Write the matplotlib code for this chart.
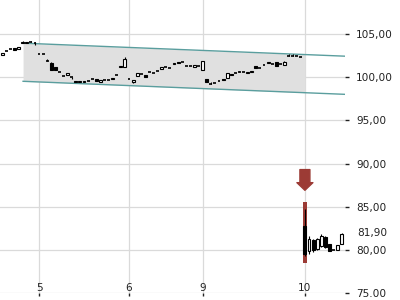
import numpy as np
import matplotlib.pyplot as plt
from matplotlib.ticker import FixedLocator

# candle data (one row per bar)
opens = [102.6, 103.05, 103.3, 103.35, 103.25, 103.95, 103.95, 104.1, 104.0,
         102.7, 102.7, 101.9, 101.65, 101.15, 100.6, 100.2, 100.25, 100.05, 99.6, 99.4,
         99.4, 99.6, 99.77, 99.75, 99.5, 99.65, 99.7, 99.75, 100.27, 101.15, 101.2,
         99.75, 99.5, 100.2, 100.35, 100.25, 100.6, 100.45, 100.7, 100.9, 101.2,
         101.1, 101.5, 101.75, 101.8, 101.3, 101.3, 101.2, 101.35,
         100.8, 99.8, 99.2, 99.38, 99.57, 99.8, 99.95, 100.4, 100.45, 100.55,
         100.6, 100.45, 100.6, 101.25, 101.1, 101.45, 101.6, 101.55, 101.8, 101.5,
         101.45, 102.5, 102.5, 102.45, 102.3,
         82.8, 79.9, 81.15, 80.1, 80.45, 81.5, 80.7, 80.0, 80.0, 80.7]
highs = [102.85, 103.05, 103.3, 103.35, 103.55, 104.2, 104.1, 104.15, 104.1,
         102.7, 102.7, 102.1, 101.8, 101.15, 100.6, 100.2, 100.5, 100.05, 99.6, 99.55,
         99.55, 99.6, 99.77, 99.75, 99.65, 99.65, 99.7, 99.9, 100.27, 101.3, 102.4,
         99.75, 99.65, 100.5, 100.35, 100.25, 100.6, 100.45, 100.7, 101.15, 101.2,
         101.1, 101.7, 101.75, 101.8, 101.3, 101.3, 101.45, 101.35,
         101.9, 99.8, 99.45, 99.38, 99.57, 99.8, 100.5, 100.4, 100.45, 100.75,
         100.6, 100.6, 100.7, 101.25, 101.1, 101.45, 101.8, 101.55, 101.8, 101.5,
         101.85, 102.7, 102.7, 102.45, 102.3,
         84.7, 81.6, 81.3, 81.4, 81.8, 81.6, 80.7, 80.0, 80.6, 81.9]
lows = [102.6, 103.05, 103.3, 103.1, 103.25, 103.95, 103.95, 104.1, 103.75,
        102.7, 102.7, 101.9, 100.85, 100.8, 100.6, 100.2, 100.25, 99.8, 99.45, 99.4,
        99.4, 99.6, 99.77, 99.6, 99.5, 99.65, 99.7, 99.75, 100.27, 101.15, 101.2,
        99.75, 99.35, 100.2, 100.35, 100.05, 100.6, 100.45, 100.7, 100.9, 101.2,
        101.1, 101.5, 101.6, 101.8, 101.3, 101.3, 101.2, 101.35,
        100.8, 99.4, 99.2, 99.38, 99.57, 99.7, 99.95, 100.3, 100.45, 100.55,
        100.6, 100.45, 100.6, 101.1, 101.1, 101.45, 101.6, 101.55, 101.35, 101.5,
        101.45, 102.5, 102.5, 102.45, 102.3,
        79.3, 79.5, 79.8, 80.0, 80.3, 80.2, 79.9, 80.0, 80.0, 80.7]
closes = [102.85, 103.05, 103.3, 103.1, 103.55, 104.1, 104.1, 104.1, 104.0,
          102.7, 102.7, 101.9, 100.85, 100.8, 100.6, 100.2, 100.5, 100.05, 99.45, 99.55,
          99.55, 99.6, 99.77, 99.6, 99.65, 99.65, 99.7, 99.9, 100.27, 101.3, 102.1,
          99.75, 99.65, 100.5, 100.35, 100.05, 100.6, 100.45, 100.7, 101.15, 101.2,
          101.1, 101.7, 101.6, 101.8, 101.3, 101.3, 101.45, 101.35,
          101.9, 99.4, 99.2, 99.38, 99.57, 99.7, 100.5, 100.3, 100.45, 100.55,
          100.6, 100.6, 100.7, 101.1, 101.1, 101.45, 101.8, 101.55, 101.35, 101.5,
          101.75, 102.5, 102.5, 102.45, 102.3,
          79.5, 81.3, 80.0, 81.3, 81.6, 80.3, 79.9, 80.0, 80.6, 81.85]

day_labels = ['5', '6', '9', '10']
day_start = [9, 31, 49, 74]

# trend channel (start / end bar, upper and lower value)
chan_x = [5.1, 83.8]
chan_upper = [103.95, 102.44]
chan_lower = [99.53, 98.02]
band_end = 74

yticks = [75, 80, 85, 90, 95, 100, 105]
ytick_labels = ['75.00', '80,00', '85,00', '90,00', '95,00', '100,00', '105,00']
last_price = 81.90
signal_bar = 74

o = np.array(opens); h = np.array(highs); l = np.array(lows); c = np.array(closes)
x = np.arange(len(o))

fig = plt.figure(figsize=(4, 3), dpi=100)
ax = fig.add_axes([0, 0.0233, 0.8625, 0.9767])

# channel
bx = np.linspace(chan_x[0], band_end, 50)
ax.fill_between(bx, np.interp(bx, chan_x, chan_lower), np.interp(bx, chan_x, chan_upper),
                color='#e0e0e0', lw=0, zorder=1)
ax.plot(chan_x, chan_upper, color='#5a9e9e', lw=1, zorder=2)
ax.plot(chan_x, chan_lower, color='#5a9e9e', lw=1, zorder=2)

# signal marker
ax.bar(signal_bar, 7.0, bottom=78.5, width=1.15, color='#9c3b35', zorder=3)
ax.annotate('', xy=(signal_bar, 86.9), xytext=(signal_bar, 89.3),
            arrowprops=dict(arrowstyle='simple,head_width=1.15,head_length=0.55,tail_width=0.72',
                            color='#9c3b35', shrinkA=0, shrinkB=0, mutation_scale=10),
            zorder=4)

# candles
w = 0.7
ax.vlines(x, l, h, color='black', lw=0.8, zorder=4)
up = c > o
down = c < o
flat = c == o
ax.bar(x[up], (c - o)[up], bottom=o[up], width=w, facecolor='white',
       edgecolor='black', lw=0.8, zorder=5)
ax.bar(x[down], (o - c)[down], bottom=c[down], width=w, facecolor='black',
       edgecolor='black', lw=0.8, zorder=5)
ax.hlines(c[flat], x[flat] - w / 2, x[flat] + w / 2, color='black', lw=1.2, zorder=5)

ax.set_xlim(-0.54, 83.8)
ax.set_ylim(75, 108.95)

ax.yaxis.tick_right()
ax.set_yticks(yticks)
ax.set_yticklabels(ytick_labels)
ax.xaxis.set_major_locator(FixedLocator(day_start))
ax.set_xticklabels(day_labels)
ax.tick_params(axis='y', direction='out', length=3, width=1, pad=5,
               labelsize=7.6, colors='#222222')
ax.tick_params(axis='x', direction='out', length=2.5, width=1, pad=-10,
               labelsize=7.6, colors='#222222')
ax.grid(True, color='#dadada', lw=0.9, zorder=0)
ax.set_axisbelow(True)
for s in ax.spines.values():
    s.set_visible(False)

ax.text(1.0, last_price, '{:.2f}'.format(last_price).replace('.', ','),
        transform=ax.get_yaxis_transform(), ha='left', va='center',
        fontsize=7.6, color='#222222')
ax.texts[-1].set_x(1.0 + 12 / 345)

plt.savefig('out.png', dpi=100)
